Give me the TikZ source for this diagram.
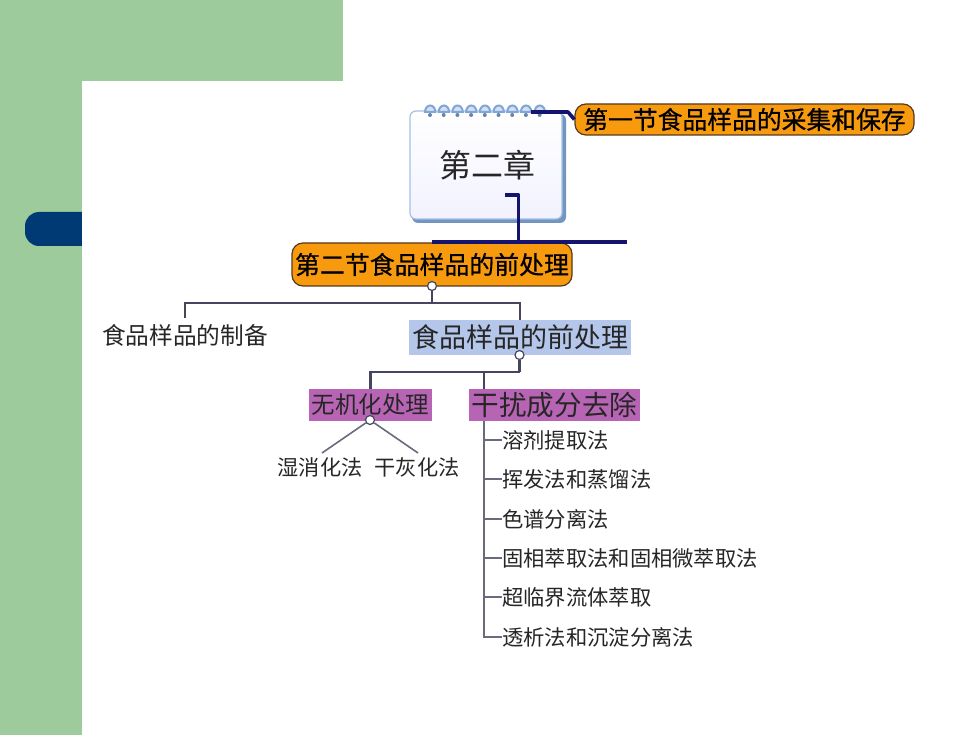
\documentclass[tikz,border=0pt]{standalone}
\usepackage{fontspec}
\setmainfont{Noto Sans CJK SC}
\newfontfamily\secfont[FakeBold=0.7]{Noto Sans CJK SC}
\usetikzlibrary{shapes,arrows,positioning,shadows}
\definecolor{pagegreen}{HTML}{9DCB9B}
\definecolor{tabblue}{HTML}{003A75}
\definecolor{linknavy}{HTML}{14146E}
\definecolor{linkgray}{HTML}{45455F}
\definecolor{secorange}{HTML}{F79A0E}
\definecolor{boxblue}{HTML}{B4C6E9}
\definecolor{boxpurple}{HTML}{B764B4}
\definecolor{ringblue}{HTML}{7FA6D6}
\begin{document}
\begin{tikzpicture}[x=1pt,y=-1pt,
  secbox/.style={draw=black!55!brown,line width=1.2pt,fill=secorange,rounded corners=11pt,inner sep=0pt,align=center,font=\secfont\fontsize{#1}{#1}\selectfont},
  leaf/.style={inner sep=0pt,anchor=west,text=black!85,font=\fontsize{21.3}{21.3}\selectfont},
  tag/.style={inner sep=0pt,text=black!85,fill=#1},
  navy/.style={draw=linknavy,line width=3.6pt},
  link/.style={draw=linkgray,line width=2.4pt},
  thin link/.style={draw=linkgray!80,line width=1.6pt},
  knob/.style={circle,draw=linkgray,fill=white,line width=1.2pt,inner sep=0pt,minimum size=9pt}]
\useasboundingbox (0,0) rectangle (980,735);
% page background
\fill[white] (0,0) rectangle (980,735);
\fill[pagegreen] (0,0) rectangle (343,81);
\fill[pagegreen] (0,0) rectangle (81.5,735);
\fill[tabblue,rounded corners=14pt] (25,212) rectangle (100,246);
\fill[white] (81.5,81) rectangle (343,735);
% notebook
\fill[ringblue!90!black,rounded corners=6pt] (412,114) rectangle (566,223);
\node[draw=ringblue!70,line width=1.2pt,rounded corners=6pt,top color=white,bottom color=blue!5,minimum width=152pt,minimum height=108pt,inner sep=0pt] (chapter) at (486,165) {};
\foreach \i in {0,...,8} {
  \draw[ringblue,line width=2pt,fill=ringblue!35] (425+\i*13.7,112) arc (180:0:5.2pt and 6.5pt) -- cycle;
  \fill[ringblue!80!black] (430+\i*13.7,115) circle (2pt);
}
\node[inner sep=0pt,text=black!85,font=\fontsize{32}{32}\selectfont] (title) at (487,165) {第二章};
% sections
\node[secbox=24.8,minimum width=339pt,minimum height=31pt] (sec one) at (744.5,119.5) {第一节食品样品的采集和保存};
\node[secbox=24.9,minimum width=280pt,minimum height=43pt] (sec two) at (432,264.5) {第二节食品样品的前处理};
\coordinate (bar left) at (432,242);
\coordinate (bar right) at (627,242);
\coordinate (ring end) at (531,112);
\coordinate (chapter stub) at (505,195);
\draw[navy,line join=round] (ring end) -- (568,112) -- (sec one.west);
\draw[navy,line join=round] (chapter stub) -- (518.5,195) -- (518.5,242);
\draw[navy] (bar left) -- (bar right);
% first level
\node[inner sep=0pt,text=black!85,font=\fontsize{23.7}{23.7}\selectfont] (prepare) at (185,335) {食品样品的制备};
\node[tag=boxblue,font=\fontsize{27}{27}\selectfont,minimum width=222pt,minimum height=35pt] (pretreat) at (520,337.5) {食品样品的前处理};
\node[knob] (sec knob) at (432,286) {};
\draw[link] (sec knob) -- (432,303);
\draw[link] (prepare.north |- 0,318) |- (520,303) -- (pretreat.north);
% second level
\node[tag=boxpurple,font=\fontsize{23.5}{23.5}\selectfont,minimum width=123pt,minimum height=32pt] (ashing) at (370.5,405) {无机化处理};
\node[tag=boxpurple,font=\fontsize{27.6}{27.6}\selectfont,minimum width=171pt,minimum height=32pt] (cleanup) at (554.5,405) {干扰成分去除};
\coordinate (trunk) at (484,372);
\draw[link] (ashing.north) |- (519.5,372);
\draw[link] (trunk) -- (484,389);
\node[knob] (pre knob) at (519.5,355) {};
\draw[link] (pre knob) -- (519.5,372);
% ashing methods
\node[inner sep=0pt,text=black!85,font=\fontsize{21.2}{21.2}\selectfont] (wet) at (320,467) {湿消化法};
\node[inner sep=0pt,text=black!85,font=\fontsize{21.2}{21.2}\selectfont] (dry) at (417,467) {干灰化法};
\node[knob] (ash knob) at (370,420) {};
\draw[thin link] (ash knob) -- (322,453);
\draw[thin link] (ash knob) -- (418,453);
% cleanup methods
\node[leaf] (m one) at (502,440) {溶剂提取法};
\node[leaf] (m two) at (502,479) {挥发法和蒸馏法};
\node[leaf] (m three) at (502,519) {色谱分离法};
\node[leaf] (m four) at (502,558) {固相萃取法和固相微萃取法};
\node[leaf] (m five) at (502,597) {超临界流体萃取};
\node[leaf] (m six) at (502,637) {透析法和沉淀分离法};
\coordinate (stem) at (484,421);
\draw[thin link] (stem) |- (m six.west);
\foreach \n in {one,two,three,four,five}
  \draw[thin link] (stem |- m \n.west) -- (m \n.west);
\end{tikzpicture}
\end{document}
